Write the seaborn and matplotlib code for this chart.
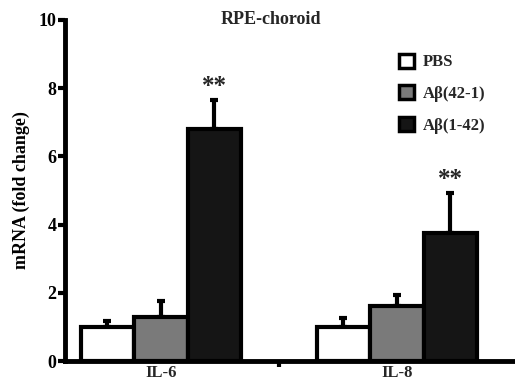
import seaborn as sns
import pandas as pd
import matplotlib.pyplot as plt

genes = ['IL-6', 'IL-8']
groups = ['PBS', 'Aβ(42-1)', 'Aβ(1-42)']
pbs = [1.0, 1.0]
rev = [1.3, 1.6]
abeta = [6.8, 3.75]
pbs_err = [0.17, 0.25]
rev_err = [0.45, 0.33]
abeta_err = [0.85, 1.18]

sns.set_style('white')
plt.rcParams['font.family'] = ['Liberation Serif', 'DejaVu Serif']
plt.rcParams['font.weight'] = 'bold'

rows = []
for vals, errs, g in [(pbs, pbs_err, groups[0]), (rev, rev_err, groups[1]), (abeta, abeta_err, groups[2])]:
    for gene, v, e in zip(genes, vals, errs):
        rows.append({'gene': gene, 'group': g, 'val': v, 'err': e})
df = pd.DataFrame(rows)

fig = plt.figure(figsize=(5.15, 3.83), dpi=100)
ax = fig.add_axes([0.126, 0.0574, 0.874, 0.8904])

pal = {'PBS': 'white', 'Aβ(42-1)': '#7a7a7a', 'Aβ(1-42)': '#151515'}
sns.barplot(data=df, x='gene', y='val', hue='group', palette=pal, width=0.68,
            errorbar=None, edgecolor='black', linewidth=3, ax=ax, legend=True, zorder=3)

# upper error bars at bar centres
bars = [p for p in ax.patches if p.get_height() > 0][:len(df)]
for p in bars:
    cx = p.get_x() + p.get_width() / 2
    ix = 0 if cx < 0.5 else 1
    gi = int(round((cx - ix + 0.34) / (0.68 / 3) - 0.5))
    r = df[(df.gene == genes[ix]) & (df.group == groups[gi])].iloc[0]
    ax.errorbar(cx, r.val, yerr=[[0], [r.err]], color='black', lw=3, capsize=3,
                capthick=3, zorder=2)

for ix, gi in [(0, 2), (1, 2)]:
    r = df[(df.gene == genes[ix]) & (df.group == groups[gi])].iloc[0]
    ax.text(ix + 0.68 / 3, r.val + r.err + 0.05, '**', ha='center', va='bottom',
            fontsize=18, fontweight='bold')

ax.set_ylim(0, 10)
ax.set_xlim(-0.407, 1.5)
ax.set_yticks([0, 2, 4, 6, 8, 10])
ax.set_xticks([0, 1])
ax.set_xticklabels(genes, fontsize=12, fontweight='bold')
ax.set_xticks([0.5], minor=True)
ax.tick_params(axis='x', which='major', length=0, pad=3)
ax.tick_params(axis='x', which='minor', length=4, width=3, direction='out', bottom=True,
               color='black')
ax.tick_params(axis='y', which='major', length=5, width=3, direction='out', left=True,
               labelsize=13, pad=1, color='black', labelcolor='black')
for t in ax.get_yticklabels():
    t.set_fontweight('bold')
ax.set_xlabel('')
ax.set_ylabel('mRNA (fold change)', fontsize=13, fontweight='bold', labelpad=6, color='black')
for s in ['top', 'right']:
    ax.spines[s].set_visible(False)
for s in ['left', 'bottom']:
    ax.spines[s].set_linewidth(3.5)
    ax.spines[s].set_color('black')

ax.text(0.466, 10.0, 'RPE-choroid', ha='center', va='center', fontsize=13, fontweight='bold')

leg = ax.legend(loc='upper left', bbox_to_anchor=(0.71, 0.945), frameon=False,
                handlelength=0.9, handleheight=0.9, labelspacing=0.9, handletextpad=0.5,
                prop={'weight': 'bold', 'size': 12})
for h in leg.legend_handles:
    h.set_linewidth(2.5)
    h.set_edgecolor('black')

fig.savefig('out.png', dpi=100)
